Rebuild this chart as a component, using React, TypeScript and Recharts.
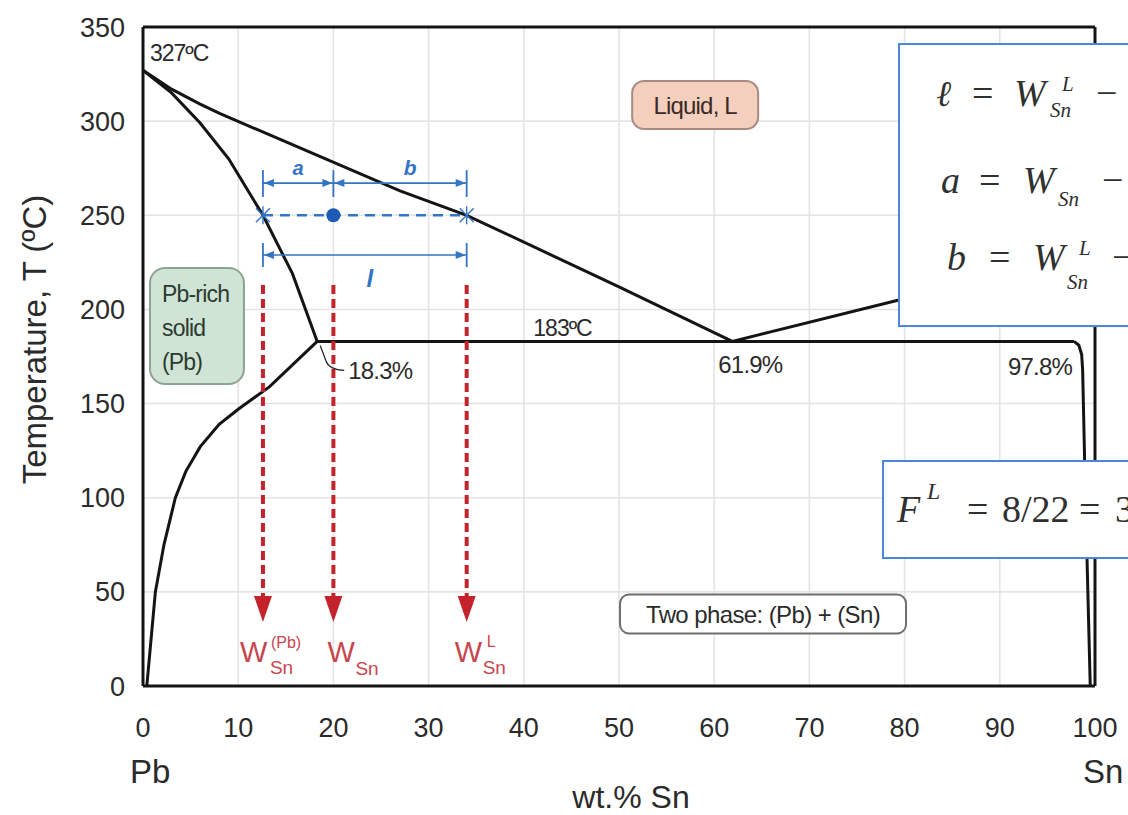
import React from 'react';
import { ComposedChart, Line, XAxis, YAxis, CartesianGrid, ReferenceLine, ReferenceDot } from 'recharts';

const SANS = "'Liberation Sans', Arial, Helvetica, sans-serif";
const SERIF = "'Liberation Serif', 'Times New Roman', 'DejaVu Serif', serif";
const INK = '#141414';
const TXT = '#2b2b2b';
const BLUE = '#3474c4';
const BLUE_DOT = '#1d5bb5';
const RED = '#c4232c';
const RED_TXT = '#c8454d';
const FBLUE = '#4a86d8';

// axis ticks
const xTicks = [0, 10, 20, 30, 40, 50, 60, 70, 80, 90, 100];
const yTicks = [0, 50, 100, 150, 200, 250, 300, 350];

// phase boundaries (x = wt.% Sn, t = temperature in ºC)
const liquidusPb = [
  { x: 0, t: 327 }, { x: 3, t: 317 }, { x: 6, t: 309 }, { x: 8.1, t: 304 },
  { x: 27, t: 263 }, { x: 34, t: 250 }, { x: 50, t: 212 }, { x: 61.9, t: 183 },
];
const liquidusSn = [{ x: 61.9, t: 183 }, { x: 79.4, t: 205 }, { x: 100, t: 232 }];
const solidusPb = [
  { x: 0, t: 327 }, { x: 3, t: 315 }, { x: 6, t: 299 }, { x: 9, t: 280 },
  { x: 12.6, t: 250 }, { x: 15.7, t: 219 }, { x: 18.3, t: 183 },
];
const solvusPb = [
  { x: 18.3, t: 183 }, { x: 13.3, t: 159 }, { x: 10, t: 147 }, { x: 8, t: 139 },
  { x: 6, t: 127 }, { x: 4.5, t: 114 }, { x: 3.4, t: 100 }, { x: 2.2, t: 75 },
  { x: 1.3, t: 50 }, { x: 0.4, t: 0 },
];
const eutectic = [{ x: 18.3, t: 183 }, { x: 97.8, t: 183 }];
const solvusSn = [
  { x: 97.8, t: 183 }, { x: 98.3, t: 181 }, { x: 98.6, t: 176 }, { x: 98.7, t: 168 },
  { x: 99.0, t: 100 }, { x: 99.5, t: 0 },
];

// key points
const pbMeltT = 327;
const eutecticT = 183;
const eutPbX = 18.3;
const eutX = 61.9;
const eutSnX = 97.8;
const leverT = 250;
const wPb = 12.6;
const w0 = 20;
const wL = 34;
const arrowTopT = 213;
const arrowTipT = 34;
const dimTopT = 267.1;
const dimBotT = 228.9;

const note = (key: string, x: number, t: number, render: (cx: number, cy: number) => React.ReactNode) => (
  <ReferenceDot
    key={key}
    x={x}
    y={t}
    r={1}
    ifOverflow="visible"
    zIndex={2000}
    shape={(p: any) => <g>{render(p.cx, p.cy)}</g>}
  />
);

const RedArrow = (p: any) => {
  const { x1, y1, x2, y2 } = p;
  const head = 26;
  return (
    <g>
      <line x1={x1} y1={y1} x2={x2} y2={y2 - head + 2} stroke={RED} strokeWidth={4} strokeDasharray="9 5" />
      <polygon points={`${x2 - 9},${y2 - head} ${x2 + 9},${y2 - head} ${x2},${y2}`} fill={RED} />
    </g>
  );
};

const DimArrow = (p: any) => {
  const { x1, y1, x2, y2 } = p;
  const h = 11;
  const w = 4;
  return (
    <g>
      <line x1={x1} y1={y1} x2={x2} y2={y2} stroke={BLUE} strokeWidth={1.6} />
      <polygon points={`${x1 + 1},${y1} ${x1 + h},${y1 - w} ${x1 + h},${y1 + w}`} fill={BLUE} />
      <polygon points={`${x2 - 1},${y2} ${x2 - h},${y2 - w} ${x2 - h},${y2 + w}`} fill={BLUE} />
    </g>
  );
};

const BlueTick = (p: any) => {
  const { x1, y1, x2, y2 } = p;
  return <line x1={x1} y1={y1} x2={x2} y2={y2} stroke={BLUE} strokeWidth={1.8} />;
};

const Cross = (cx: number, cy: number) => (
  <g stroke={BLUE} strokeWidth={1.4}>
    <line x1={cx - 7} y1={cy - 7} x2={cx + 7} y2={cy + 7} />
    <line x1={cx - 7} y1={cy + 7} x2={cx + 7} y2={cy - 7} />
    <line x1={cx} y1={cy - 9} x2={cx} y2={cy + 9} />
  </g>
);

const seg = (x1: number, t1: number, x2: number, t2: number) => [
  { x: x1, y: t1 },
  { x: x2, y: t2 },
];

export default function App() {
  const line = (key: string, data: { x: number; t: number }[]) => (
    <Line
      key={key}
      data={data}
      dataKey="t"
      type="linear"
      stroke={INK}
      strokeWidth={3}
      dot={false}
      activeDot={false}
      isAnimationActive={false}
    />
  );

  return (
    <div style={{ position: 'absolute', left: 0, top: 0, width: 1128, height: 815, background: '#fff', overflow: 'hidden' }}>
      <ComposedChart width={1128} height={815} margin={{ top: 27, right: 33, left: 83, bottom: 69 }}>
        <CartesianGrid stroke="#e4e4e4" strokeWidth={1.6} />
        <XAxis
          type="number"
          dataKey="x"
          domain={[0, 100]}
          ticks={xTicks}
          interval={0}
          height={60}
          axisLine={{ stroke: INK, strokeWidth: 3 }}
          tickLine={false}
          tickMargin={26}
          tick={{ fontSize: 27, fill: TXT, fontFamily: SANS }}
        />
        <YAxis
          type="number"
          dataKey="t"
          domain={[0, 350]}
          ticks={yTicks}
          interval={0}
          width={60}
          axisLine={{ stroke: INK, strokeWidth: 3 }}
          tickLine={false}
          tickMargin={12}
          tick={{ fontSize: 27, fill: TXT, fontFamily: SANS }}
        />
        <ReferenceLine y={350} stroke={INK} strokeWidth={3} />
        <ReferenceLine x={100} stroke={INK} strokeWidth={3} />

        {line('liqPb', liquidusPb)}
        {line('liqSn', liquidusSn)}
        {line('solPb', solidusPb)}
        {line('svPb', solvusPb)}
        {line('eut', eutectic)}
        {line('svSn', solvusSn)}

        {/* red dashed arrows */}
        <ReferenceLine segment={seg(wPb, arrowTopT, wPb, arrowTipT)} shape={RedArrow} />
        <ReferenceLine segment={seg(w0, arrowTopT, w0, arrowTipT)} shape={RedArrow} />
        <ReferenceLine segment={seg(wL, arrowTopT, wL, arrowTipT)} shape={RedArrow} />

        {/* blue tie line */}
        <ReferenceLine segment={seg(wPb, leverT, wL, leverT)} stroke={BLUE} strokeWidth={2.6} strokeDasharray="10 7" />
        <ReferenceLine segment={seg(wPb, dimTopT, w0, dimTopT)} shape={DimArrow} />
        <ReferenceLine segment={seg(w0, dimTopT, wL, dimTopT)} shape={DimArrow} />
        <ReferenceLine segment={seg(wPb, dimBotT, wL, dimBotT)} shape={DimArrow} />
        <ReferenceLine segment={seg(wPb, 274, wPb, 259.7)} shape={BlueTick} />
        <ReferenceLine segment={seg(w0, 274, w0, 259.7)} shape={BlueTick} />
        <ReferenceLine segment={seg(wL, 274, wL, 259.7)} shape={BlueTick} />
        <ReferenceLine segment={seg(wPb, 235.3, wPb, 222.5)} shape={BlueTick} />
        <ReferenceLine segment={seg(wL, 235.3, wL, 222.5)} shape={BlueTick} />
        {note('crossA', wPb, leverT, Cross)}
        {note('crossB', wL, leverT, Cross)}
        <ReferenceDot x={w0} y={leverT} r={7} fill={BLUE_DOT} stroke="none" ifOverflow="visible" zIndex={2000} />
        {note('la', (wPb + w0) / 2, dimTopT, (cx, cy) => (
          <text x={cx} y={cy - 8} textAnchor="middle" fontFamily={SANS} fontStyle="italic" fontWeight="bold" fontSize={20} fill={BLUE}>a</text>
        ))}
        {note('lb', (w0 + wL) / 2, dimTopT, (cx, cy) => (
          <text x={cx + 10} y={cy - 8} textAnchor="middle" fontFamily={SANS} fontStyle="italic" fontWeight="bold" fontSize={21} fill={BLUE}>b</text>
        ))}
        {note('ll', (wPb + wL) / 2, dimBotT, (cx, cy) => (
          <text x={cx + 5} y={cy + 32} textAnchor="middle" fontFamily={SANS} fontStyle="italic" fontWeight="bold" fontSize={24} fill={BLUE}>l</text>
        ))}

        {/* red W labels */}
        {note('w1', wPb, 0, (cx, cy) => (
          <g fontFamily={SANS} fill={RED_TXT}>
            <text x={cx - 23} y={cy - 24} fontSize={29}>W</text>
            <text x={cx + 8} y={cy - 38} fontSize={16}>(Pb)</text>
            <text x={cx + 7} y={cy - 12} fontSize={19}>Sn</text>
          </g>
        ))}
        {note('w2', w0, 0, (cx, cy) => (
          <g fontFamily={SANS} fill={RED_TXT}>
            <text x={cx - 6} y={cy - 24} fontSize={29}>W</text>
            <text x={cx + 22} y={cy - 11} fontSize={19}>Sn</text>
          </g>
        ))}
        {note('w3', wL, 0, (cx, cy) => (
          <g fontFamily={SANS} fill={RED_TXT}>
            <text x={cx - 12} y={cy - 24} fontSize={29}>W</text>
            <text x={cx + 20} y={cy - 39} fontSize={16}>L</text>
            <text x={cx + 16} y={cy - 12} fontSize={19}>Sn</text>
          </g>
        ))}

        {/* point labels */}
        {note('t327', 0, pbMeltT, (cx, cy) => (
          <text x={cx + 7} y={cy - 9} fontFamily={SANS} fontSize={23} fill={TXT} letterSpacing={-1}>327ºC</text>
        ))}
        {note('t183', 41, eutecticT, (cx, cy) => (
          <text x={cx} y={cy - 5} fontFamily={SANS} fontSize={23} fill={TXT} letterSpacing={-1}>183ºC</text>
        ))}
        {note('p183', eutPbX, eutecticT, (cx, cy) => (
          <g>
            <path d={`M${cx + 3},${cy + 4} L${cx + 9},${cy + 20} Q${cx + 12},${cy + 28} ${cx + 27},${cy + 29}`} stroke={TXT} strokeWidth={1.3} fill="none" />
            <text x={cx + 31} y={cy + 38} fontFamily={SANS} fontSize={24} fill={TXT} letterSpacing={-0.8}>18.3%</text>
          </g>
        ))}
        {note('p619', eutX, eutecticT, (cx, cy) => (
          <text x={cx - 14} y={cy + 32} fontFamily={SANS} fontSize={24} fill={TXT} letterSpacing={-0.8}>61.9%</text>
        ))}
        {note('p978', eutSnX, eutecticT, (cx, cy) => (
          <text x={cx - 2} y={cy + 34} textAnchor="end" fontFamily={SANS} fontSize={24} fill={TXT} letterSpacing={-0.8}>97.8%</text>
        ))}

        {/* region boxes */}
        {note('liq', 58, 308.6, (cx, cy) => (
          <g>
            <rect x={cx - 63} y={cy - 24} width={126} height={48} rx={12} fill="#f5cfbd" stroke="#a88a82" strokeWidth={2} />
            <text x={cx} y={cy + 9} textAnchor="middle" fontFamily={SANS} fontSize={24} fill="#3a2a26" letterSpacing={-0.8}>Liquid, L</text>
          </g>
        ))}
        {note('pbs', 5.67, 191.2, (cx, cy) => (
          <g>
            <rect x={cx - 47} y={cy - 58} width={94} height={116} rx={15} fill="#cfe4d5" stroke="#8fa395" strokeWidth={2} />
            <g fontFamily={SANS} fontSize={23} fill="#2c3a30" letterSpacing={-0.8}>
              <text x={cx - 35} y={cy - 24}>Pb-rich</text>
              <text x={cx - 35} y={cy + 10}>solid</text>
              <text x={cx - 35} y={cy + 44}>(Pb)</text>
            </g>
          </g>
        ))}
        {note('two', 65.13, 38.5, (cx, cy) => (
          <g>
            <rect x={cx - 143} y={cy - 19} width={286} height={39} rx={9} fill="#fff" stroke="#6e6e6e" strokeWidth={2} />
            <text x={cx} y={cy + 9} textAnchor="middle" fontFamily={SANS} fontSize={24} fill={TXT} letterSpacing={-0.6}>Two phase: (Pb) + (Sn)</text>
          </g>
        ))}

        {/* formula boxes */}
        {note('f1', 79.41, 340.95, (cx, cy) => (
          <g>
            <rect x={cx} y={cy} width={262} height={282} fill="#fff" stroke={FBLUE} strokeWidth={2} />
            <g fontFamily={SERIF} fill="#303030">
              <text x={cx + 37} y={cy + 62} fontSize={36} fontStyle="italic">ℓ</text>
              <text x={cx + 73} y={cy + 62} fontSize={38}>=</text>
              <text x={cx + 115} y={cy + 62} fontSize={38} fontStyle="italic">W</text>
              <text x={cx + 163} y={cy + 47} fontSize={21} fontStyle="italic">L</text>
              <text x={cx + 151} y={cy + 73} fontSize={21} fontStyle="italic">Sn</text>
              <text x={cx + 197} y={cy + 62} fontSize={38}>−</text>

              <text x={cx + 42} y={cy + 149} fontSize={38} fontStyle="italic">a</text>
              <text x={cx + 80} y={cy + 149} fontSize={38}>=</text>
              <text x={cx + 124} y={cy + 149} fontSize={38} fontStyle="italic">W</text>
              <text x={cx + 159} y={cy + 162} fontSize={21} fontStyle="italic">Sn</text>
              <text x={cx + 203} y={cy + 149} fontSize={38}>−</text>

              <text x={cx + 48} y={cy + 226} fontSize={38} fontStyle="italic">b</text>
              <text x={cx + 90} y={cy + 226} fontSize={38}>=</text>
              <text x={cx + 134} y={cy + 226} fontSize={38} fontStyle="italic">W</text>
              <text x={cx + 180} y={cy + 211} fontSize={21} fontStyle="italic">L</text>
              <text x={cx + 168} y={cy + 245} fontSize={21} fontStyle="italic">Sn</text>
              <text x={cx + 213} y={cy + 226} fontSize={38}>−</text>
            </g>
          </g>
        ))}
        {note('f2', 77.73, 119.5, (cx, cy) => (
          <g>
            <rect x={cx} y={cy} width={270} height={97} fill="#fff" stroke={FBLUE} strokeWidth={2} />
            <g fontFamily={SERIF} fill="#303030">
              <text x={cx + 14} y={cy + 61} fontSize={38} fontStyle="italic">F</text>
              <text x={cx + 44} y={cy + 38} fontSize={24} fontStyle="italic">L</text>
              <text x={cx + 84} y={cy + 61} fontSize={38}>=</text>
              <text x={cx + 119} y={cy + 61} fontSize={38}>8/22</text>
              <text x={cx + 196} y={cy + 61} fontSize={38}>=</text>
              <text x={cx + 232} y={cy + 61} fontSize={38}>36%</text>
            </g>
          </g>
        ))}

        {/* axis captions */}
        {note('ylab', 0, 184, (cx, cy) => (
          <text
            x={cx - 108}
            y={cy}
            transform={`rotate(-90, ${cx - 108}, ${cy})`}
            textAnchor="middle"
            dominantBaseline="central"
            fontFamily={SANS}
            fontSize={33}
            fill={TXT}
          >
            Temperature, T  (ºC)
          </text>
        ))}
        {note('xlab', 50, 0, (cx, cy) => (
          <text x={cx + 12} y={cy + 122} textAnchor="middle" fontFamily={SANS} fontSize={32} fill={TXT}>wt.% Sn</text>
        ))}
        {note('pb', 0, 0, (cx, cy) => (
          <text x={cx - 13} y={cy + 97} fontFamily={SANS} fontSize={33} fill={TXT}>Pb</text>
        ))}
        {note('sn', 100, 0, (cx, cy) => (
          <text x={cx - 12} y={cy + 97} fontFamily={SANS} fontSize={33} fill={TXT}>Sn</text>
        ))}
      </ComposedChart>
    </div>
  );
}
